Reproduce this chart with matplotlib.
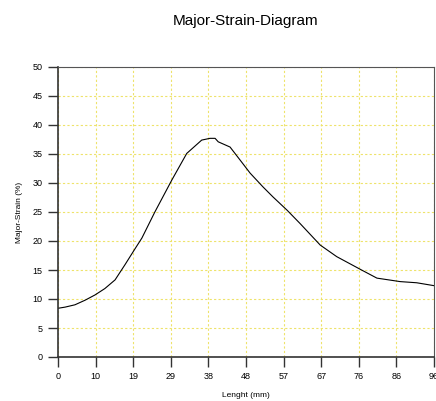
import numpy as np
import matplotlib.pyplot as plt

plt.rcParams['font.family'] = ['Liberation Sans', 'DejaVu Sans']

# Curve: length (mm) vs major strain (%).
length_mm = [0.0, 1.8, 4.3, 6.9, 9.4, 11.9, 14.5, 17.0, 19.6, 21.3, 24.6,
             28.9, 32.7, 36.5, 38.6, 39.9, 40.7, 43.7, 46.2, 48.8, 52.1,
             54.6, 58.2, 61.5, 66.6, 70.8, 77.1, 81.0, 86.9, 91.1, 95.5]
major_strain = [8.4, 8.6, 9.0, 9.8, 10.7, 11.8, 13.3, 15.9, 18.7, 20.5, 25.0,
                30.5, 35.1, 37.4, 37.7, 37.7, 37.1, 36.2, 34.0, 31.7, 29.3,
                27.6, 25.3, 23.0, 19.3, 17.3, 15.0, 13.6, 13.0, 12.8, 12.3]

x_max = 95.5
x_tick_labels = ['0', '10', '19', '29', '38', '48', '57', '67', '76', '86', '96']
y_ticks = [0, 5, 10, 15, 20, 25, 30, 35, 40, 45, 50]

fig = plt.figure(figsize=(4.36, 4.01), dpi=100)
ax = fig.add_axes([58 / 436, 44 / 401, 376 / 436, 290 / 401])

ax.plot(length_mm, major_strain, color='black', linewidth=0.8)

ax.set_xlim(0, x_max)
ax.set_ylim(0, 50)
ax.set_xticks(np.linspace(0, x_max, len(x_tick_labels)))
ax.set_xticklabels(x_tick_labels)
ax.set_yticks(y_ticks)
ax.grid(True, color='#eee36a', linestyle=(0, (2, 2)), linewidth=0.8)
ax.set_axisbelow(True)

for side in ['left', 'bottom']:
    ax.spines[side].set_color('#333333')
    ax.spines[side].set_linewidth(1.2)
for side in ['top', 'right']:
    ax.spines[side].set_color('#555555')
    ax.spines[side].set_linewidth(0.8)

ax.tick_params(direction='out', length=7, width=1.0, color='#333333',
               labelsize=6.5, pad=4)

ax.set_title('Major-Strain-Diagram', fontsize=11, pad=30)
ax.set_xlabel('Lenght (mm)', fontsize=6, labelpad=8)
ax.set_ylabel('Major-Strain (%)', fontsize=6, labelpad=7)

plt.savefig('out.png', dpi=100)
